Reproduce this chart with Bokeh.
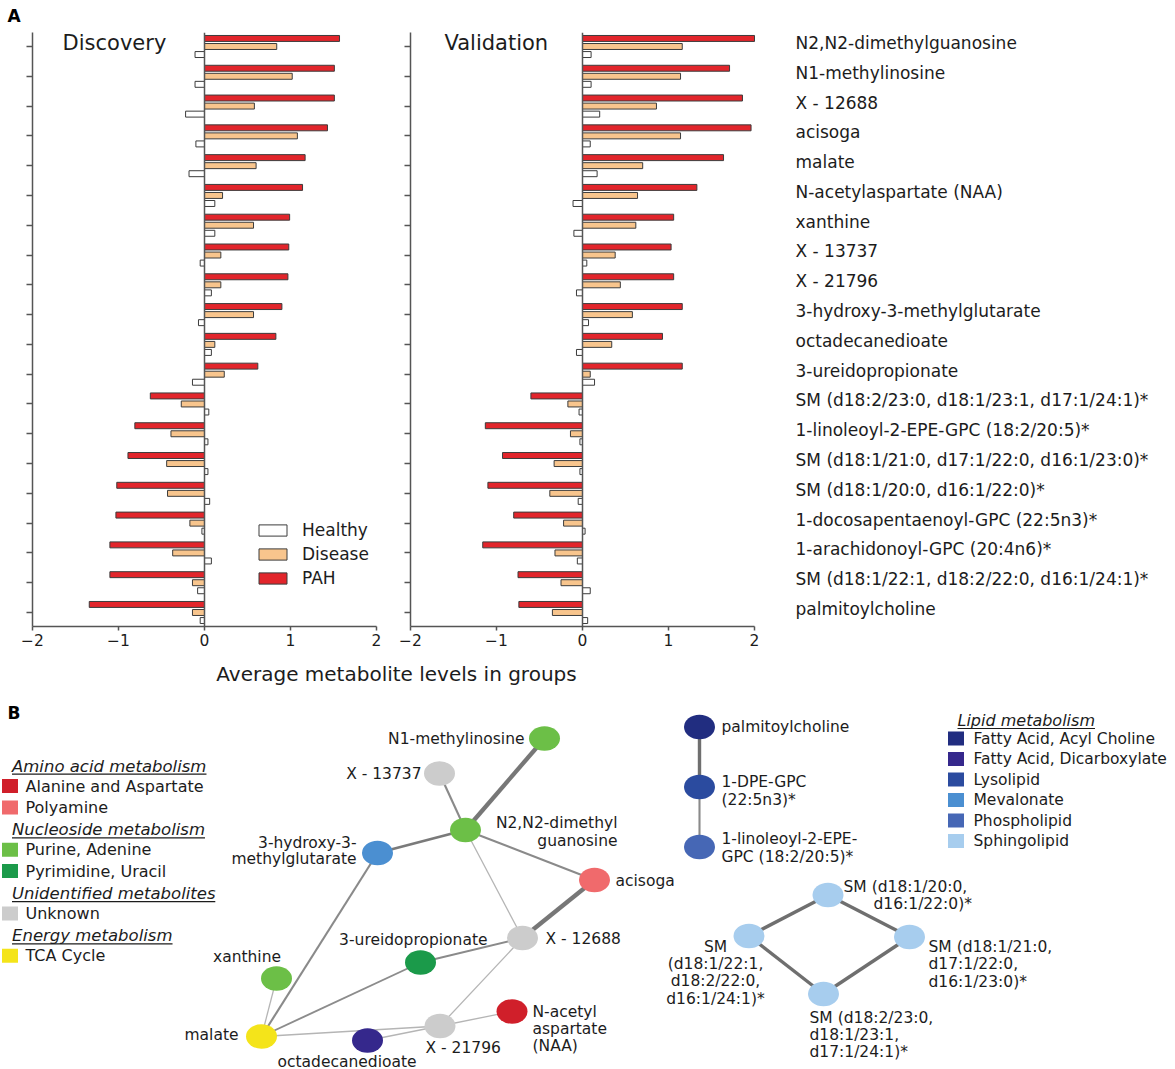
from bokeh.plotting import figure
from bokeh.models import (Range1d, ColumnDataSource, Legend, LegendItem, Label, Span,
                          FixedTicker, LinearAxis)
from bokeh.layouts import column, row
from bokeh.embed import file_html
from bokeh.resources import INLINE
from bokeh.core.properties import value

FONT = "DejaVu Sans"

# ---------------- data: panel A ----------------
metabolites = ["N2,N2-dimethylguanosine", "N1-methylinosine", "X - 12688", "acisoga", "malate",
               "N-acetylaspartate (NAA)", "xanthine", "X - 13737", "X - 21796",
               "3-hydroxy-3-methylglutarate", "octadecanedioate", "3-ureidopropionate",
               "SM (d18:2/23:0, d18:1/23:1, d17:1/24:1)*", "1-linoleoyl-2-EPE-GPC (18:2/20:5)*",
               "SM (d18:1/21:0, d17:1/22:0, d16:1/23:0)*", "SM (d18:1/20:0, d16:1/22:0)*",
               "1-docosapentaenoyl-GPC (22:5n3)*", "1-arachidonoyl-GPC (20:4n6)*",
               "SM (d18:1/22:1, d18:2/22:0, d16:1/24:1)*", "palmitoylcholine"]

disc_pah = [1.57, 1.51, 1.51, 1.43, 1.17, 1.14, 0.99, 0.98, 0.97, 0.90,
            0.83, 0.62, -0.63, -0.81, -0.89, -1.02, -1.03, -1.10, -1.10, -1.34]
disc_disease = [0.84, 1.02, 0.58, 1.08, 0.60, 0.21, 0.57, 0.19, 0.19, 0.57,
                0.12, 0.23, -0.27, -0.39, -0.44, -0.43, -0.17, -0.37, -0.14, -0.14]
disc_healthy = [-0.11, -0.11, -0.22, -0.10, -0.18, 0.12, 0.12, -0.05, 0.08, -0.07,
                0.08, -0.14, 0.05, 0.04, 0.04, 0.06, -0.03, 0.08, -0.08, -0.05]

val_pah = [2.00, 1.71, 1.86, 1.96, 1.64, 1.33, 1.06, 1.03, 1.06, 1.16,
           0.93, 1.16, -0.60, -1.13, -0.93, -1.10, -0.80, -1.16, -0.75, -0.74]
val_disease = [1.16, 1.14, 0.86, 1.14, 0.70, 0.64, 0.62, 0.38, 0.44, 0.58,
               0.34, 0.09, -0.17, -0.14, -0.33, -0.38, -0.22, -0.32, -0.25, -0.35]
val_healthy = [0.10, 0.10, 0.20, 0.09, 0.17, -0.11, -0.10, 0.05, -0.07, 0.07,
               -0.07, 0.14, -0.04, -0.03, -0.03, -0.05, 0.03, -0.06, 0.09, 0.06]

x_ticks = [-2, -1, 0, 1, 2]
groups = ["Healthy", "Disease", "PAH"]
x_label = "Average metabolite levels in groups"

# ---------------- data: panel B ----------------
cat_names = ["Alanine and Aspartate", "Polyamine", "Purine, Adenine", "Pyrimidine, Uracil",
             "Unknown", "TCA Cycle", "Fatty Acid, Acyl Choline", "Fatty Acid, Dicarboxylate",
             "Lysolipid", "Mevalonate", "Phospholipid", "Sphingolipid"]
cat_colors = ["#d01f2a", "#f06a6c", "#6cbf47", "#1b9a4a", "#cccccc", "#f4e41a",
              "#212d80", "#35288c", "#2b4b9f", "#4b8fd1", "#4667b5", "#a7cdee"]
left_groups = [("Amino acid metabolism", ["Alanine and Aspartate", "Polyamine"]),
               ("Nucleoside metabolism", ["Purine, Adenine", "Pyrimidine, Uracil"]),
               ("Unidentified metabolites", ["Unknown"]),
               ("Energy metabolism", ["TCA Cycle"])]
right_groups = [("Lipid metabolism", ["Fatty Acid, Acyl Choline", "Fatty Acid, Dicarboxylate",
                                      "Lysolipid", "Mevalonate", "Phospholipid", "Sphingolipid"])]

node_names = ["N1-methylinosine", "X - 13737", "N2,N2-dimethylguanosine",
              "3-hydroxy-3-methylglutarate", "acisoga", "X - 12688", "3-ureidopropionate",
              "xanthine", "malate", "octadecanedioate", "X - 21796", "N-acetylaspartate (NAA)",
              "palmitoylcholine", "1-DPE-GPC", "1-linoleoyl-2-EPE-GPC",
              "SM (d18:1/20:0, d16:1/22:0)*", "SM (d18:1/21:0, d17:1/22:0, d16:1/23:0)*",
              "SM (d18:1/22:1, d18:2/22:0, d16:1/24:1)*", "SM (d18:2/23:0, d18:1/23:1, d17:1/24:1)*"]
node_cat = ["Purine, Adenine", "Unknown", "Purine, Adenine", "Mevalonate", "Polyamine", "Unknown",
            "Pyrimidine, Uracil", "Purine, Adenine", "TCA Cycle", "Fatty Acid, Dicarboxylate",
            "Unknown", "Alanine and Aspartate", "Fatty Acid, Acyl Choline", "Lysolipid",
            "Phospholipid", "Sphingolipid", "Sphingolipid", "Sphingolipid", "Sphingolipid"]
# network layout (layout coordinates)
node_lx = [544, 439, 465, 377, 594, 522, 420, 276, 261, 367, 439.5, 511.5,
           699, 699, 699, 827.5, 909, 748.5, 823]
node_ly = [738, 773, 829.5, 852.5, 879.5, 937.5, 962, 978, 1036, 1040, 1025.5, 1011,
           726.5, 786.5, 846.5, 894.5, 936.5, 935.5, 993.5]

# edges: (a, b, strength)
edge_a = [0, 1, 3, 2, 2, 4, 5, 5, 3, 6, 7, 8, 9, 10, 12, 13, 15, 15, 17, 16]
edge_b = [2, 2, 2, 4, 5, 5, 6, 10, 8, 8, 8, 10, 10, 11, 13, 14, 16, 17, 18, 18]
edge_strength = [3, 2, 2.5, 2, 1, 3, 2, 1, 2, 1.8, 1, 1, 1, 1, 2.6, 2, 2.6, 2.6, 2.6, 2.6]

# node labels: (lines, anchor x, first-line y, align, line step)
node_labels = [
    (["N1-methylinosine"], 524, 738, "right", 17),
    (["X - 13737"], 421, 773, "right", 17),
    (["N2,N2-dimethyl", "guanosine"], 617, 822.5, "right", 18),
    (["3-hydroxy-3-", "methylglutarate"], 356, 842, "right", 16.5),
    (["acisoga"], 615, 880, "left", 17),
    (["X - 12688"], 545, 938, "left", 17),
    (["3-ureidopropionate"], 487, 939, "right", 17),
    (["xanthine"], 246.5, 956, "center", 17),
    (["malate"], 238, 1034, "right", 17),
    (["octadecanedioate"], 346.5, 1061, "center", 17),
    (["X - 21796"], 425, 1047.5, "left", 17),
    (["N-acetyl", "aspartate", "(NAA)"], 532, 1011.5, "left", 16.8),
    (["palmitoylcholine"], 721, 726.5, "left", 17),
    (["1-DPE-GPC", "(22:5n3)*"], 721, 781.7, "left", 17.6),
    (["1-linoleoyl-2-EPE-", "GPC (18:2/20:5)*"], 721, 838.3, "left", 17.7),
    (["SM (d18:1/20:0,"], 843, 886.7, "left", 17),
    (["d16:1/22:0)*"], 873, 903.3, "left", 17),
    (["SM (d18:1/21:0,", "d17:1/22:0,", "d16:1/23:0)*"], 928, 946.7, "left", 17.2),
    (["SM", "(d18:1/22:1,", "d18:2/22:0,", "d16:1/24:1)*"], 715, 946, "center", 17.4),
    (["SM (d18:2/23:0,", "d18:1/23:1,", "d17:1/24:1)*"], 809, 1017.3, "left", 17.2),
]

# ---------------- style ----------------
RED = "#e2252b"
ORANGE = "#f8c58d"
WHITE = "#ffffff"
EDGE = "#3c3c3c"
AX = "#555555"
TXT = "#1c1c1c"

TOTAL_W = 1175
TOTAL_H = 1069
PANEL_H = 658
FRAME_TOP = 32
FRAME_BOTTOM = 626
Y_PAD = 0.47
PX_PER_UNIT = 86.0

DJV = {'A': 684, 'm': 974, 'i': 278, 'n': 634, 'o': 612, 'a': 613, 'c': 550, 'd': 635,
       'e': 615, 't': 392, 'b': 635, 'l': 278, 's': 521, 'N': 748, 'u': 634, 'U': 732,
       'f': 352, 'E': 632, 'r': 411, 'g': 635, 'y': 592, 'L': 557, 'p': 635, ' ': 318}


def text_width(s, size):
    return sum(DJV.get(ch, 600) for ch in s) / 1000.0 * size


def bar_panel(pah, dis, hea, width, b_left, b_right):
    n = len(metabolites)
    idx = list(range(n))
    frame_w = width - b_left - b_right
    x_end = -2 + frame_w / PX_PER_UNIT
    p = figure(width=width, height=PANEL_H, x_range=Range1d(-2, x_end),
               y_range=Range1d(n - 1 + Y_PAD, -Y_PAD), x_axis_type=None, y_axis_type=None,
               output_backend="svg", toolbar_location=None,
               min_border_left=b_left, min_border_right=b_right,
               min_border_top=FRAME_TOP, min_border_bottom=PANEL_H - FRAME_BOTTOM)
    p.outline_line_color = None
    src = ColumnDataSource(dict(
        y_pah=[i - 0.27 for i in idx], y_dis=idx, y_hea=[i + 0.27 for i in idx],
        pah=pah, dis=dis, hea=hea))
    r_pah = p.hbar(y="y_pah", left=0, right="pah", height=0.2, source=src,
                   fill_color=RED, line_color=EDGE, line_width=1)
    r_dis = p.hbar(y="y_dis", left=0, right="dis", height=0.2, source=src,
                   fill_color=ORANGE, line_color=EDGE, line_width=1)
    r_hea = p.hbar(y="y_hea", left=0, right="hea", height=0.2, source=src,
                   fill_color=WHITE, line_color=EDGE, line_width=1)
    p.add_layout(Span(location=0, dimension="height", line_color=AX, line_width=1.5))
    xa = LinearAxis(ticker=FixedTicker(ticks=x_ticks), bounds=(-2, 2),
                    axis_line_color=AX, axis_line_width=1.5,
                    major_tick_line_color=AX, major_tick_line_width=1.5,
                    major_tick_in=0, major_tick_out=4, minor_tick_line_color=None,
                    major_label_standoff=3, major_label_text_font=FONT,
                    major_label_text_font_size="15.5px", major_label_text_color=TXT)
    p.add_layout(xa, "below")
    ya = LinearAxis(ticker=FixedTicker(ticks=idx), axis_line_color=AX, axis_line_width=1.5,
                    major_tick_line_color=AX, major_tick_line_width=1.5,
                    major_tick_in=0, major_tick_out=6, minor_tick_line_color=None,
                    major_label_text_color=None, major_label_standoff=0)
    p.add_layout(ya, "left")
    return p, r_pah, r_dis, r_hea


W_D = 396
W_V = TOTAL_W - W_D

# ---- Discovery ----
pD, rp, rd, rh = bar_panel(disc_pah, disc_disease, disc_healthy, W_D, 32, 20)
pD.title.text = "A"
pD.title.text_font = FONT
pD.title.text_font_size = "17px"
pD.title.text_font_style = "bold"
pD.title.text_color = "#000000"
pD.title.align = "left"
pD.title.vertical_align = "top"
pD.title.offset = -25
pD.title.standoff = 10
pD.add_layout(Label(x=-1.65, y=-0.12, text="Discovery", text_font=FONT, text_font_size="21px",
                    text_baseline="middle", text_color=TXT))
legend = Legend(items=[LegendItem(label=groups[0], renderers=[rh]),
                       LegendItem(label=groups[1], renderers=[rd]),
                       LegendItem(label=groups[2], renderers=[rp])],
                location=(223, 38), orientation="vertical", glyph_width=35, glyph_height=14,
                label_standoff=12, label_text_font=FONT, label_text_font_size="17px",
                label_text_color=TXT, label_height=20, spacing=4, padding=0, margin=0,
                border_line_color=None, background_fill_alpha=0)
pD.add_layout(legend)

# ---- Validation ----
pV, _, _, _ = bar_panel(val_pah, val_disease, val_healthy, W_V, 14, 0)
pV.add_layout(Label(x=-1.605, y=-0.12, text="Validation", text_font=FONT, text_font_size="21px",
                    text_baseline="middle", text_color=TXT))
lab_src = ColumnDataSource(dict(x=[2.477] * len(metabolites),
                                y=[i - 0.12 for i in range(len(metabolites))],
                                t=metabolites))
pV.text(x="x", y="y", text="t", source=lab_src, text_font=value(FONT),
        text_font_size=value("17px"), text_baseline="middle", text_align="left",
        text_color=TXT)

# ---- Panel B ----
pB = figure(width=TOTAL_W, height=TOTAL_H - PANEL_H, x_range=Range1d(0, TOTAL_W),
            y_range=Range1d(TOTAL_H, PANEL_H), x_axis_type=None, y_axis_type=None,
            output_backend="svg", toolbar_location=None, min_border=0)
pB.outline_line_color = None

pB.text(x=[396], y=[673], text=[x_label], text_font=value(FONT), text_font_size=value("20px"),
        text_align="center", text_baseline="middle", text_color=TXT)
pB.text(x=[7], y=[712.5], text=["B"], text_font=value(FONT), text_font_size=value("17px"),
        text_font_style="bold", text_align="left", text_baseline="middle", text_color="#000")

color_of = dict(zip(cat_names, cat_colors))


def draw_legend(groups_spec, x_sw, x_txt, x_head, y0, to_item_first, to_item, to_head,
                size_txt, size_head):
    y = y0
    hx, hy, ht, ux0, ux1, uy = [], [], [], [], [], []
    sx, sy, sc, tx, ty, tt = [], [], [], [], [], []
    first = True
    for head, items in groups_spec:
        if not first:
            y += to_head
        first = False
        hx.append(x_head); hy.append(y); ht.append(head)
        ux0.append(x_head); ux1.append(x_head + text_width(head, size_head)); uy.append(y + 8)
        for k, it in enumerate(items):
            y += to_item_first if k == 0 else to_item
            sx.append(x_sw); sy.append(y); sc.append(color_of[it])
            tx.append(x_txt); ty.append(y); tt.append(it)
    pB.text(x=hx, y=hy, text=ht, text_font=value(FONT), text_font_size=value(f"{size_head}px"),
            text_font_style="italic", text_baseline="middle", text_align="left", text_color=TXT)
    pB.segment(x0=ux0, y0=uy, x1=ux1, y1=uy, line_color=TXT, line_width=1.2)
    pB.rect(x=sx, y=sy, width=16, height=14, fill_color=sc, line_color=None)
    pB.text(x=tx, y=ty, text=tt, text_font=value(FONT), text_font_size=value(f"{size_txt}px"),
            text_baseline="middle", text_align="left", text_color=TXT)


draw_legend(left_groups, 9.5, 25, 11.5, 765.7, 19.8, 21.4, 22.5, 16, 16.5)
draw_legend(right_groups, 955.5, 973, 957, 720, 18, 20.5, 20.5, 15.5, 16)

# edges
ew = {1: 1.3, 1.8: 1.9, 2: 2.1, 2.5: 2.8, 2.6: 3.4, 3: 4.3}
ec = {1: "#b5b5b5", 1.8: "#8c8c8c", 2: "#8a8a8a", 2.5: "#7a7a7a", 2.6: "#6f6f6f", 3: "#777777"}
esrc = ColumnDataSource(dict(
    x0=[node_lx[a] for a in edge_a], y0=[node_ly[a] for a in edge_a],
    x1=[node_lx[b] for b in edge_b], y1=[node_ly[b] for b in edge_b],
    w=[ew[s] for s in edge_strength], c=[ec[s] for s in edge_strength]))
pB.segment(x0="x0", y0="y0", x1="x1", y1="y1", line_width="w", line_color="c", source=esrc)

nsrc = ColumnDataSource(dict(x=node_lx, y=node_ly, c=[color_of[c] for c in node_cat]))
pB.ellipse(x="x", y="y", width=31, height=24.5, fill_color="c", line_color=None, source=nsrc)

for align in ["left", "right", "center"]:
    lx, ly, lt = [], [], []
    for lines, ax, ay, al, step in node_labels:
        if al != align:
            continue
        for k, ln in enumerate(lines):
            lx.append(ax); ly.append(ay + k * step); lt.append(ln)
    pB.text(x=lx, y=ly, text=lt, text_font=value(FONT), text_font_size=value("15.5px"),
            text_align=align, text_baseline="middle", text_color=TXT)

layout = column(row(pD, pV), pB)
open("out.html", "w").write(file_html(layout, INLINE))
